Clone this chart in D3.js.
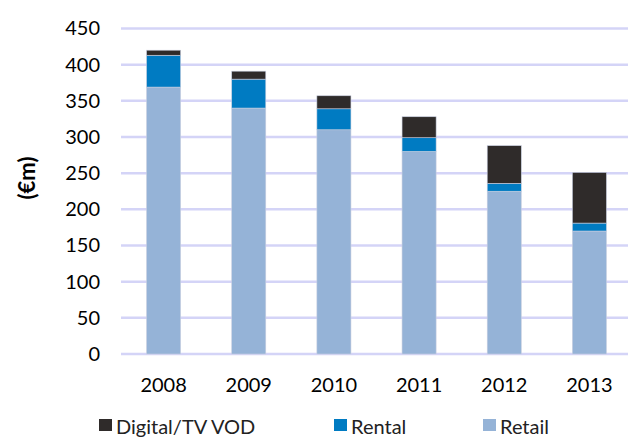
<!DOCTYPE html>
<html>
<head>
<meta charset="utf-8">
<script src="https://cdn.jsdelivr.net/npm/d3@7"></script>
<style>
  body { margin: 0; background: #fff; }
  svg { display: block; font-family: Lato, "Open Sans", sans-serif; }
</style>
</head>
<body>
<div id="chart"></div>
<script>
const years = ['2008', '2009', '2010', '2011', '2012', '2013'];
const retail = [369, 340, 310, 280, 225, 170];
const rental = [44, 40, 29, 19, 11, 11];
const digital = [7, 11, 18, 29, 52, 70];
const yTicks = [0, 50, 100, 150, 200, 250, 300, 350, 400, 450];

const seriesNames = ['Retail', 'Rental', 'Digital/TV VOD'];
const colors = {
    'Retail': '#95b3d7',
    'Rental': '#007bc2',
    'Digital/TV VOD': '#2f2b2a'
};

const width = 628, height = 439;
const margin = {top: 28, right: 0, bottom: 85, left: 121};

const rows = years.map((y, i) => ({
    year: y,
    'Retail': retail[i],
    'Rental': rental[i],
    'Digital/TV VOD': digital[i]
}));

const svg = d3.select('#chart').append('svg')
    .attr('width', width)
    .attr('height', height);

const x = d3.scaleBand()
    .domain(years)
    .range([margin.left, 632])
    .paddingInner(0.6)
    .paddingOuter(0.3);

const y = d3.scaleLinear()
    .domain([0, 450])
    .range([354, 28.5]);

// gridlines
svg.append('g')
    .selectAll('line')
    .data(yTicks)
    .enter()
    .append('line')
    .attr('x1', margin.left)
    .attr('x2', width)
    .attr('y1', d => y(d))
    .attr('y2', d => y(d))
    .attr('stroke', '#d4d4f7')
    .attr('stroke-width', 2.5);

// y axis labels
const yAxis = d3.axisLeft(y).tickValues(yTicks).tickSize(0).tickPadding(0);
svg.append('g')
    .attr('transform', 'translate(100,0)')
    .call(yAxis)
    .call(g => g.select('.domain').remove())
    .selectAll('text')
    .attr('font-size', 20)
    .attr('font-family', 'Lato, sans-serif')
    .attr('fill', '#000');

// stacked bars
const stack = d3.stack().keys(seriesNames);
const layers = stack(rows);

svg.append('g')
    .selectAll('g')
    .data(layers)
    .enter()
    .append('g')
    .attr('fill', d => colors[d.key])
    .selectAll('rect')
    .data(d => d)
    .enter()
    .append('rect')
    .attr('x', d => x(d.data.year))
    .attr('width', x.bandwidth())
    .attr('y', d => y(d[1]))
    .attr('height', d => y(d[0]) - y(d[1]))
    .attr('stroke', '#c9cfe0')
    .attr('stroke-width', 0.6);

// x axis labels
const xAxis = d3.axisBottom(x).tickSize(0).tickPadding(0);
svg.append('g')
    .attr('transform', 'translate(0,378)')
    .call(xAxis)
    .call(g => g.select('.domain').remove())
    .selectAll('text')
    .attr('font-size', 20)
    .attr('font-family', 'Lato, sans-serif')
    .attr('fill', '#000');

// y axis title
svg.append('text')
    .attr('transform', 'translate(35,178) rotate(-90)')
    .attr('text-anchor', 'middle')
    .attr('font-size', 22)
    .attr('font-weight', 'bold')
    .attr('fill', '#000')
    .text('(€m)');

// legend
const legendItems = [
    {name: 'Digital/TV VOD', x: 99},
    {name: 'Rental', x: 334},
    {name: 'Retail', x: 483}
];

const legend = svg.append('g').attr('class', 'legend');

legend.selectAll('rect')
    .data(legendItems)
    .enter()
    .append('rect')
    .attr('x', d => d.x)
    .attr('y', 419)
    .attr('width', 13)
    .attr('height', 12)
    .attr('fill', d => colors[d.name]);

legend.selectAll('text')
    .data(legendItems)
    .enter()
    .append('text')
    .attr('x', d => d.x + 17)
    .attr('y', 434)
    .attr('font-size', 20)
    .attr('fill', '#222')
    .text(d => d.name);
</script>
</body>
</html>
